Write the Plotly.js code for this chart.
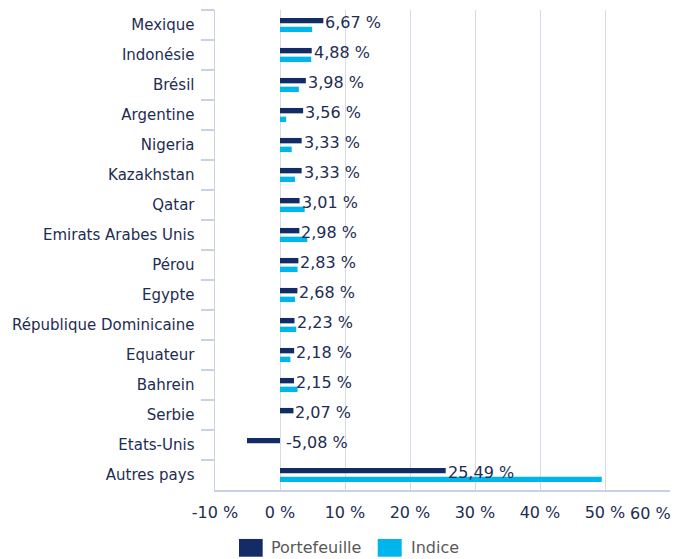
<!DOCTYPE html>
<html>
<head>
<meta charset="utf-8">
<script src="https://cdn.plot.ly/plotly-3.0.1.min.js"></script>
<style>html,body{margin:0;padding:0;background:#fff;}#chart{width:675px;height:559px;}</style>
</head>
<body>
<div id="chart"></div>
<script>
const categories = ["Mexique","Indonésie","Brésil","Argentine","Nigeria","Kazakhstan","Qatar","Emirats Arabes Unis","Pérou","Egypte","République Dominicaine","Equateur","Bahrein","Serbie","Etats-Unis","Autres pays"];
const portefeuille = [6.67,4.88,3.98,3.56,3.33,3.33,3.01,2.98,2.83,2.68,2.23,2.18,2.15,2.07,-5.08,25.49];
const indice = [4.95,4.8,2.9,0.95,1.8,2.3,3.8,4.2,2.7,2.3,2.5,1.6,2.7,0,0,49.5];
const seriesNames = ["Portefeuille","Indice"];
const xTickVals = [-10,0,10,20,30,40,50,60];
const xTickText = ["-10 %","0 %","10 %","20 %","30 %","40 %","50 %",""];
const lastTickLabel = "60 %";

const navy = "#132c66", cyan = "#00b5ec", textNavy = "#1e2d52", grid = "#d3dbe8";
const fmt = v => v.toFixed(2).replace(".", ",") + " %";

const traces = [
  {type:"bar", orientation:"h", name:seriesNames[0], y:categories, x:portefeuille, marker:{color:navy}, hoverinfo:"x+y"},
  {type:"bar", orientation:"h", name:seriesNames[1], y:categories, x:indice, marker:{color:cyan}, hoverinfo:"x+y"}
];

const annotations = categories.map((c,i) => ({
  x: Math.max(portefeuille[i],0), y: c, xref:"x", yref:"y",
  text: fmt(portefeuille[i]), showarrow:false, xanchor:"left", yanchor:"middle",
  xshift: portefeuille[i] < 0 ? 4 : 0, yshift: 3,
  font:{family:"DejaVu Sans", size:16, color:textNavy}
}));
annotations.push({x:60, y:0, xref:"x", yref:"paper", text:lastTickLabel, showarrow:false,
  xanchor:"right", yanchor:"middle", xshift:3, yshift:-23,
  font:{family:"DejaVu Sans", size:16, color:textNavy}});
// custom legend
const legX = [[0.0527,0.1048,0.1187],[0.3576,0.4103,0.4264]];
const legColors = [navy, cyan];
const shapes = [];
seriesNames.forEach((n,k) => {
  shapes.push({type:"rect", xref:"paper", yref:"paper", x0:legX[k][0], x1:legX[k][1], y0:-0.139, y1:-0.102,
    fillcolor:legColors[k], line:{width:0}});
  annotations.push({xref:"paper", yref:"paper", x:legX[k][2], y:-0.1208, text:n, showarrow:false,
    xanchor:"left", yanchor:"middle", font:{family:"DejaVu Sans", size:16, color:"#595959"}});
});

const layout = {
  width:675, height:559,
  margin:{l:215, r:5, t:10, b:69},
  paper_bgcolor:"#fff", plot_bgcolor:"#fff",
  barmode:"group", bargap:0.42, bargroupgap:0.38,
  showlegend:false,
  font:{family:"DejaVu Sans", size:15, color:textNavy},
  xaxis:{range:[-10,60], tickmode:"array", tickvals:xTickVals, ticktext:xTickText,
    showgrid:true, gridcolor:grid, gridwidth:1, zeroline:false,
    showline:true, linecolor:"#c8d2e2", linewidth:1.5, ticks:"", ticklabelstandoff:7,
    tickfont:{family:"DejaVu Sans", size:16, color:textNavy}, fixedrange:true},
  yaxis:{type:"category", autorange:"reversed", showgrid:false, zeroline:false,
    showline:true, linecolor:"#c8d2e2", linewidth:1.5,
    ticks:"outside", tickson:"boundaries", ticklen:13, tickcolor:"#c8d2e2", tickwidth:1.5,
    ticklabelstandoff:16,
    tickfont:{family:"DejaVu Sans", size:15, color:textNavy}, fixedrange:true},
  annotations: annotations,
  shapes: shapes
};
Plotly.newPlot("chart", traces, layout, {displayModeBar:false, staticPlot:true});
</script>
</body>
</html>
